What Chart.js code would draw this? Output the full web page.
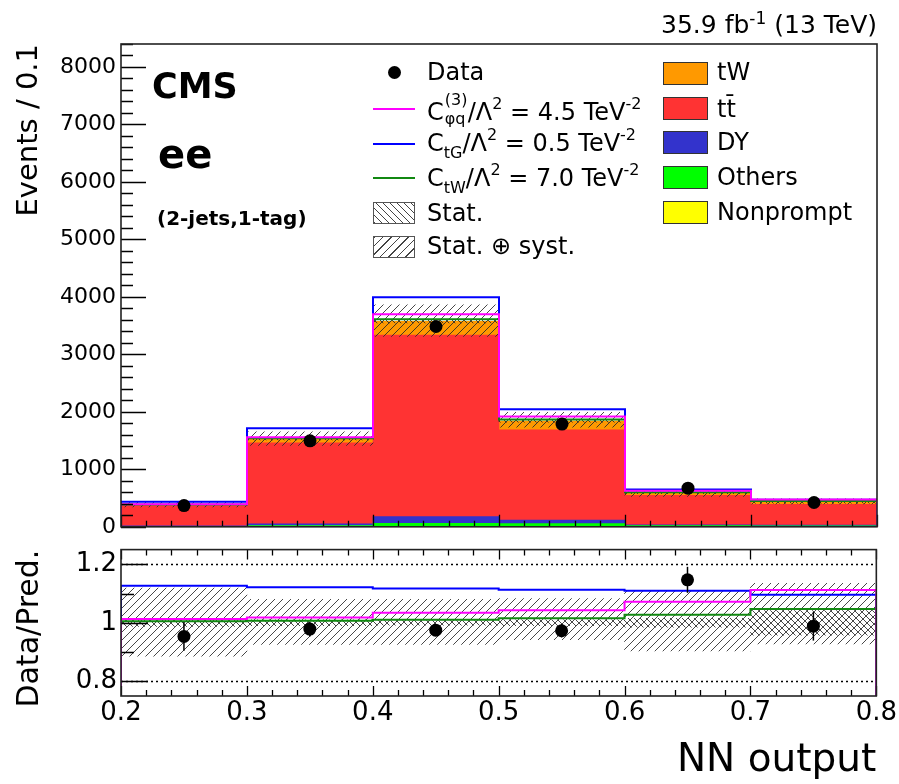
<!DOCTYPE html>
<html lang="en">
<head>
<meta charset="utf-8">
<title>NN output, ee (2-jets,1-tag)</title>
<script src="https://cdn.jsdelivr.net/npm/chart.js@4.4.1/dist/chart.umd.min.js"></script>
<style>
  html, body { margin: 0; padding: 0; background: #fff; }
  #plot { position: relative; width: 899px; height: 784px; overflow: hidden;
          font-family: "DejaVu Sans", sans-serif; color: #000; }
  #plot canvas { position: absolute; left: 0; }
  #mainCanvas { top: 0; }
  #ratioCanvas { top: 530px; }
  .txt { position: absolute; white-space: nowrap; line-height: 1; transform: translateY(-50%); }
  .bold { font-weight: bold; }
  .leg { font-size: 24px; }
  .sup { font-size: 16px; position: relative; top: -11px; }
  .sub { font-size: 16px; position: relative; top: 7px; }
  .stack { display: inline-block; position: relative; width: 24px; height: 24px; }
  .stack .sup, .stack .sub { position: absolute; left: 1px; top: auto; }
  .stack .sup { top: -4px; }
  .stack .sub { top: 15px; }
  .dot { position: absolute; width: 13px; height: 13px; border-radius: 50%; background: #000; }
  .lsample { position: absolute; left: 373px; width: 42px; height: 2px; }
  .hbox { position: absolute; left: 373px; width: 42px; height: 22px; box-sizing: border-box;
          border: 1px solid #555; }
  .cbox { position: absolute; left: 663px; width: 45px; height: 23px; box-sizing: border-box;
          border: 1px solid #333; }
</style>
</head>
<body>
<div id="plot">
  <canvas id="mainCanvas" width="899" height="545"></canvas>
  <canvas id="ratioCanvas" width="899" height="254"></canvas>

  <div class="txt" style="right:22px; top:24px; font-size:25px;">35.9 fb<span class="sup" style="font-size:17px; top:-9px;">-1</span> (13 TeV)</div>
  <div class="txt bold" style="left:152px; top:86px; font-size:35px;">CMS</div>
  <div class="txt bold" style="left:158px; top:154px; font-size:40px;">ee</div>
  <div class="txt bold" style="left:157px; top:218px; font-size:20px;">(2-jets,1-tag)</div>

  <!-- legend, left column -->
  <div class="dot" style="left:388px; top:66px;"></div>
  <div class="txt leg" style="left:427px; top:72px;">Data</div>
  <div class="lsample" style="top:108px; background:#ff00ff;"></div>
  <div class="txt leg" style="left:427px; top:110px;">C<span class="stack"><span class="sup">(3)</span><span class="sub">φq</span></span>/Λ<span class="sup">2</span> = 4.5 TeV<span class="sup">-2</span></div>
  <div class="lsample" style="top:143px; background:#0000ff;"></div>
  <div class="txt leg" style="left:427px; top:143px;">C<span class="sub">tG</span>/Λ<span class="sup">2</span> = 0.5 TeV<span class="sup">-2</span></div>
  <div class="lsample" style="top:177px; background:#118811;"></div>
  <div class="txt leg" style="left:427px; top:178px;">C<span class="sub">tW</span>/Λ<span class="sup">2</span> = 7.0 TeV<span class="sup">-2</span></div>
  <div class="hbox" style="top:202px; background:repeating-linear-gradient(45deg, #444 0 1px, #fff 1px 5px);"></div>
  <div class="txt leg" style="left:427px; top:213px;">Stat.</div>
  <div class="hbox" style="top:236px; background:repeating-linear-gradient(135deg, #444 0 1px, #fff 1px 6px);"></div>
  <div class="txt leg" style="left:427px; top:246px;">Stat. ⊕ syst.</div>

  <!-- legend, right column -->
  <div class="cbox" style="top:62px; background:#ff9900;"></div>
  <div class="txt leg" style="left:717px; top:72px;">tW</div>
  <div class="cbox" style="top:97px; background:#ff3333;"></div>
  <div class="txt leg" style="left:717px; top:109px;">tt̄</div>
  <div class="cbox" style="top:131px; background:#3333cc;"></div>
  <div class="txt leg" style="left:717px; top:142px;">DY</div>
  <div class="cbox" style="top:166px; background:#00ff00;"></div>
  <div class="txt leg" style="left:717px; top:177px;">Others</div>
  <div class="cbox" style="top:201px; background:#ffff00;"></div>
  <div class="txt leg" style="left:717px; top:212px;">Nonprompt</div>
</div>

<script>
// NN output binning
const binEdges = [0.2, 0.3, 0.4, 0.5, 0.6, 0.7, 0.8];
const binCenters = [0.25, 0.35, 0.45, 0.55, 0.65, 0.75];

// expected events per bin, stacked bottom to top
const nonpromptEvents = [2, 4, 6, 5, 3, 2];
const othersEvents = [8, 18, 55, 50, 18, 16];
const dyEvents = [6, 28, 115, 60, 14, 12];
const ttbarEvents = [354, 1413, 3159, 1573, 511, 360];
const twEvents = [18, 65, 240, 150, 40, 38];

// observed events and their errors
const dataEvents = [370, 1495, 3485, 1788, 672, 423];
const dataErrors = [19, 39, 59, 42, 26, 21];

// EFT hypotheses
const cphiqEvents = [393, 1556, 3697, 1917, 628, 476];
const ctgEvents = [437, 1714, 3993, 2046, 650, 469];
const ctwEvents = [390, 1539, 3611, 1867, 602, 448];

// relative uncertainties on the prediction
const statSystUp = [0.119, 0.080, 0.080, 0.083, 0.108, 0.135];
const statSystDown = [0.114, 0.074, 0.074, 0.058, 0.096, 0.072];
const statUnc = [0.012, 0.010, 0.008, 0.010, 0.015, 0.042];

// axis ticks
const xTicks = [0.2, 0.3, 0.4, 0.5, 0.6, 0.7, 0.8];
const eventTicks = [0, 1000, 2000, 3000, 4000, 5000, 6000, 7000, 8000];
const ratioTicks = [0.8, 1, 1.2];

const MAGENTA = '#ff00ff', BLUE = '#0000ff', GREEN = '#118811';

const prediction = binCenters.map((_, i) =>
  nonpromptEvents[i] + othersEvents[i] + dyEvents[i] + ttbarEvents[i] + twEvents[i]);

const perBin = vals => binCenters.map((x, i) => ({ x, y: vals[i] }));
// histogram outline: points on bin edges, dropping to zero at both ends
const histSteps = vals => [
  { x: binEdges[0], y: 0 },
  ...vals.map((v, i) => ({ x: binEdges[i], y: v })),
  { x: binEdges[vals.length], y: vals[vals.length - 1] },
  { x: binEdges[vals.length], y: 0 }
];
const overPred = vals => vals.map((v, i) => v / prediction[i]);
const band = (lo, hi, ref) => binCenters.map((x, i) => {
  const r = ref ? ref[i] : 1;
  return { x, y: [r * (1 - lo[i]), r * (1 + hi[i])] };
});

function hatch(ctx, size, forward) {
  const c = document.createElement('canvas');
  c.width = c.height = size;
  const g = c.getContext('2d');
  g.strokeStyle = 'rgba(40,40,40,0.85)';
  g.lineWidth = 1;
  g.beginPath();
  if (forward) {
    g.moveTo(0, size); g.lineTo(size, 0);
    g.moveTo(-1, 1); g.lineTo(1, -1);
    g.moveTo(size - 1, size + 1); g.lineTo(size + 1, size - 1);
  } else {
    g.moveTo(0, 0); g.lineTo(size, size);
    g.moveTo(-1, size - 1); g.lineTo(1, size + 1);
    g.moveTo(size - 1, -1); g.lineTo(size + 1, 1);
  }
  g.stroke();
  return ctx.createPattern(c, 'repeat');
}

function minorValues(majors, div, min, max) {
  const step = (majors[1] - majors[0]) / div;
  const out = [];
  const k0 = Math.ceil((min - majors[0]) / step - 1e-6);
  const k1 = Math.floor((max - majors[0]) / step + 1e-6);
  for (let k = k0; k <= k1; k++) if (k % div !== 0) out.push(majors[0] + k * step);
  return out;
}

// ROOT-like frame with inward ticks
const histFrame = {
  id: 'histFrame',
  beforeDatasetsDraw(chart, args, o) {
    const { ctx, chartArea: a, scales: { y } } = chart;
    if (!o.dotted) return;
    ctx.save();
    ctx.strokeStyle = '#000';
    ctx.lineWidth = 1.3;
    ctx.setLineDash([2, 3]);
    o.dotted.forEach(v => {
      const py = Math.round(y.getPixelForValue(v)) + 0.5;
      ctx.beginPath(); ctx.moveTo(a.left, py); ctx.lineTo(a.right, py); ctx.stroke();
    });
    ctx.restore();
  },
  afterDraw(chart, args, o) {
    const { ctx, chartArea: a, scales: { x, y } } = chart;
    ctx.save();
    ctx.strokeStyle = '#000';
    ctx.lineWidth = 1.3;
    ctx.beginPath();
    const xMajors = x.ticks.map(t => t.value);
    const yMajors = y.ticks.map(t => t.value);
    const xTick = (v, len) => {
      const px = Math.round(x.getPixelForValue(v)) + 0.5;
      ctx.moveTo(px, a.bottom); ctx.lineTo(px, a.bottom - len);
      if (o.topTicks) { ctx.moveTo(px, a.top); ctx.lineTo(px, a.top + len); }
    };
    const yTick = (v, len) => {
      const py = Math.round(y.getPixelForValue(v)) + 0.5;
      ctx.moveTo(a.left, py); ctx.lineTo(a.left + len, py);
    };
    xMajors.forEach(v => xTick(v, o.xMajorLen));
    minorValues(xMajors, o.xDiv, x.min, x.max).forEach(v => xTick(v, o.xMinorLen));
    yMajors.forEach(v => yTick(v, o.yMajorLen));
    minorValues(yMajors, o.yDiv, y.min, y.max).forEach(v => yTick(v, o.yMinorLen));
    ctx.stroke();
    ctx.lineWidth = 1.6;
    ctx.strokeStyle = '#222';
    ctx.strokeRect(a.left, a.top, a.right - a.left, a.bottom - a.top);
    ctx.restore();
  }
};

// vertical error bars for datasets carrying an "errors" array
const errorBars = {
  id: 'errorBars',
  afterDatasetsDraw(chart) {
    const { ctx, scales: { x, y } } = chart;
    chart.data.datasets.forEach(ds => {
      if (!ds.errors) return;
      ctx.save();
      ctx.strokeStyle = '#000';
      ctx.lineWidth = 1.5;
      ds.data.forEach((p, i) => {
        const px = x.getPixelForValue(p.x);
        ctx.beginPath();
        ctx.moveTo(px, y.getPixelForValue(p.y - ds.errors[i]));
        ctx.lineTo(px, y.getPixelForValue(p.y + ds.errors[i]));
        ctx.stroke();
      });
      ctx.restore();
    });
  }
};

Chart.defaults.font.family = '"DejaVu Sans", sans-serif';
Chart.defaults.color = '#000';

const barDefaults = { barPercentage: 1, categoryPercentage: 1, grouped: false, borderWidth: 0 };
const lineDefaults = { pointRadius: 0, borderWidth: 2, fill: false, stepped: 'before' };
const setTicks = list => s => { s.ticks = list.map(value => ({ value })); };

const mainEl = document.getElementById('mainCanvas');
const mainCtx = mainEl.getContext('2d');

new Chart(mainEl, {
  type: 'bar',
  data: {
    datasets: [
      { type: 'scatter', label: 'Data', data: perBin(dataEvents), errors: dataErrors,
        backgroundColor: '#000', pointRadius: 6.5, pointBorderWidth: 0, order: 0 },
      { type: 'line', label: 'Cphiq', data: histSteps(cphiqEvents), borderColor: MAGENTA, order: 1 },
      { type: 'line', label: 'CtW', data: histSteps(ctwEvents), borderColor: GREEN, order: 2 },
      { type: 'line', label: 'CtG', data: histSteps(ctgEvents), borderColor: BLUE, order: 3 },
      { label: 'Stat.', data: band(statUnc, statUnc, prediction),
        backgroundColor: hatch(mainCtx, 6, false), order: 4 },
      { label: 'Stat. ⊕ syst.', data: band(statSystDown, statSystUp, prediction),
        backgroundColor: hatch(mainCtx, 8, true), order: 5 },
      { label: 'Nonprompt', data: perBin(nonpromptEvents), backgroundColor: '#ffff00', stack: 'sm', order: 6 },
      { label: 'Others', data: perBin(othersEvents), backgroundColor: '#00ff00', stack: 'sm', order: 7 },
      { label: 'DY', data: perBin(dyEvents), backgroundColor: '#3333cc', stack: 'sm', order: 8 },
      { label: 'tt̄', data: perBin(ttbarEvents), backgroundColor: '#ff3333', stack: 'sm', order: 9 },
      { label: 'tW', data: perBin(twEvents), backgroundColor: '#ff9900', stack: 'sm', order: 10 }
    ]
  },
  options: {
    responsive: false,
    animation: false,
    layout: { padding: { top: 44, right: 22, bottom: 17, left: 0 } },
    datasets: { bar: barDefaults, line: lineDefaults },
    plugins: {
      legend: { display: false },
      tooltip: { enabled: false },
      histFrame: { xDiv: 5, yDiv: 5, xMajorLen: 12, xMinorLen: 6, yMajorLen: 25, yMinorLen: 12, topTicks: false }
    },
    scales: {
      x: { type: 'linear', min: 0.2, max: 0.8, offset: false, display: false,
           grid: { offset: false }, afterBuildTicks: setTicks(xTicks) },
      y: { type: 'linear', min: 0, max: 8400, beginAtZero: false,
           afterBuildTicks: setTicks(eventTicks),
           afterFit: s => { s.width = 121; },
           grid: { display: false, drawTicks: false },
           border: { display: false },
           ticks: { padding: 5, autoSkip: false, font: { size: 22 }, callback: v => String(v) },
           title: { display: true, text: 'Events / 0.1', align: 'end', font: { size: 29 },
                    padding: { top: 12, bottom: 0 } } }
    }
  },
  plugins: [histFrame, errorBars]
});

const ratioEl = document.getElementById('ratioCanvas');
const ratioCtx = ratioEl.getContext('2d');

new Chart(ratioEl, {
  type: 'bar',
  data: {
    datasets: [
      { type: 'scatter', label: 'Data', data: perBin(overPred(dataEvents)),
        errors: dataErrors.map((e, i) => e / prediction[i]),
        backgroundColor: '#000', pointRadius: 6.5, pointBorderWidth: 0, order: 0 },
      { type: 'line', label: 'Cphiq', data: histSteps(overPred(cphiqEvents)), borderColor: MAGENTA, order: 1 },
      { type: 'line', label: 'CtW', data: histSteps(overPred(ctwEvents)), borderColor: GREEN, order: 2 },
      { type: 'line', label: 'CtG', data: histSteps(overPred(ctgEvents)), borderColor: BLUE, order: 3 },
      { label: 'Stat.', data: band(statUnc, statUnc), backgroundColor: hatch(ratioCtx, 6, false), order: 4 },
      { label: 'Stat. ⊕ syst.', data: band(statSystDown, statSystUp),
        backgroundColor: hatch(ratioCtx, 8, true), order: 5 }
    ]
  },
  options: {
    responsive: false,
    animation: false,
    layout: { padding: { top: 18, right: 22, bottom: 0, left: 0 } },
    datasets: { bar: barDefaults, line: lineDefaults },
    plugins: {
      legend: { display: false },
      tooltip: { enabled: false },
      histFrame: { xDiv: 5, yDiv: 2, xMajorLen: 10, xMinorLen: 6, yMajorLen: 27, yMinorLen: 13,
                   topTicks: true, dotted: [0.8, 1.2] }
    },
    scales: {
      x: { type: 'linear', min: 0.2, max: 0.8, offset: false,
           grid: { display: false, drawTicks: false, offset: false },
           border: { display: false },
           afterBuildTicks: setTicks(xTicks),
           afterFit: s => { s.height = 88; },
           ticks: { padding: 2, autoSkip: false, maxRotation: 0, font: { size: 26 },
                    callback: v => v.toFixed(1) },
           title: { display: true, text: 'NN output', align: 'end', font: { size: 39 },
                    padding: { top: 0, bottom: 0 } } },
      y: { type: 'linear', min: 0.75, max: 1.25, beginAtZero: false,
           afterBuildTicks: setTicks(ratioTicks),
           afterFit: s => { s.width = 121; },
           grid: { display: false, drawTicks: false },
           border: { display: false },
           ticks: { padding: 4, autoSkip: false, font: { size: 26 },
                    callback: v => (v === 1 ? '1' : v.toFixed(1)) },
           title: { display: true, text: 'Data/Pred.', align: 'end', font: { size: 30 },
                    padding: { top: 12, bottom: 0 } } }
    }
  },
  plugins: [histFrame, errorBars]
});
</script>
</body>
</html>
